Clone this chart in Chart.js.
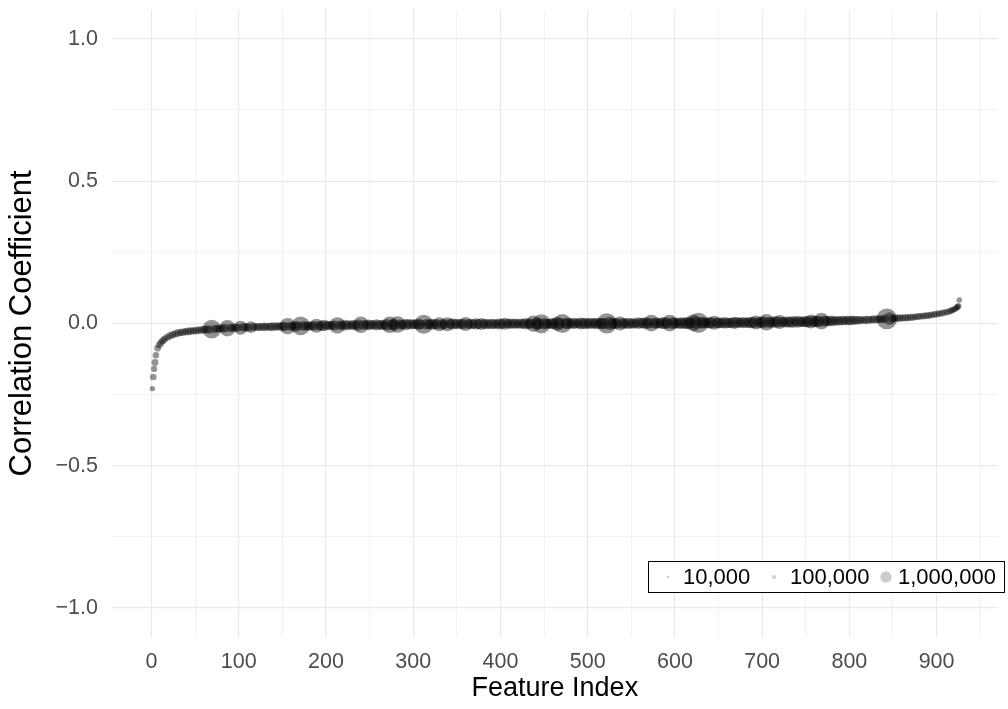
<!DOCTYPE html>
<html>
<head>
<meta charset="utf-8">
<script src="https://cdn.jsdelivr.net/npm/chart.js@4/dist/chart.umd.min.js"></script>
<style>
  html, body { margin: 0; padding: 0; background: #fff; }
  canvas { display: block; }
</style>
</head>
<body>
<canvas id="chart" width="1008" height="709"></canvas>
<script>
// feature index (x), sorted correlation (y), observations per feature in thousands (point size)
const featureIndex = [
  1,2,3,4,5,7,9,11,13,15,18,21,24,27,30,
  33,36,39,42,45,48,51,54,57,60,
  63,66,69,72,75,78,81,84,87,90,
  93,96,99,102,105,108,111,114,117,120,
  123,126,129,132,135,138,141,144,147,150,
  153,156,159,162,165,168,171,174,177,180,
  183,186,189,192,195,198,201,204,207,210,
  213,216,219,222,225,228,231,234,237,240,
  243,246,249,252,255,258,261,264,267,270,
  273,276,279,282,285,288,291,294,297,300,
  303,306,309,312,315,318,321,324,327,330,
  333,336,339,342,345,348,351,354,357,360,
  363,366,369,372,375,378,381,384,387,390,
  393,396,399,402,405,408,411,414,417,420,
  423,426,429,432,435,438,441,444,447,450,
  453,456,459,462,465,468,471,474,477,480,
  483,486,489,492,495,498,501,504,507,510,
  513,516,519,522,525,528,531,534,537,540,
  543,546,549,552,555,558,561,564,567,570,
  573,576,579,582,585,588,591,594,597,600,
  603,606,609,612,615,618,621,624,627,630,
  633,636,639,642,645,648,651,654,657,660,
  663,666,669,672,675,678,681,684,687,690,
  693,696,699,702,705,708,711,714,717,720,
  723,726,729,732,735,738,741,744,747,750,
  753,756,759,762,765,768,771,774,777,780,
  783,786,789,792,795,798,801,804,807,810,
  813,816,819,822,825,828,831,834,837,840,
  843,846,849,852,855,858,861,864,867,870,
  873,876,879,882,885,888,891,894,897,900,
  903,906,909,912,915,917,919,921,923,924,925,926
];

const correlation = [
  -0.229,-0.188,-0.160,-0.137,-0.112,-0.087,-0.075,-0.067,-0.061,-0.055,
  -0.049,-0.044,-0.040,-0.037,-0.034,
  -0.032,-0.031,-0.029,-0.028,-0.027,-0.026,-0.025,-0.024,-0.023,-0.022,
  -0.021,-0.021,-0.020,-0.020,-0.019,-0.018,-0.018,-0.017,-0.017,-0.016,
  -0.016,-0.015,-0.015,-0.015,-0.014,-0.014,-0.014,-0.013,-0.013,-0.013,
  -0.013,-0.012,-0.012,-0.012,-0.012,-0.012,-0.011,-0.011,-0.011,-0.011,
  -0.011,-0.010,-0.010,-0.010,-0.010,-0.009,-0.009,-0.009,-0.009,-0.009,
  -0.009,-0.008,-0.008,-0.008,-0.008,-0.007,-0.007,-0.007,-0.007,-0.007,
  -0.007,-0.007,-0.006,-0.006,-0.006,-0.006,-0.006,-0.006,-0.006,-0.005,
  -0.005,-0.005,-0.005,-0.005,-0.005,-0.005,-0.005,-0.005,-0.005,-0.005,
  -0.005,-0.004,-0.004,-0.004,-0.004,-0.004,-0.004,-0.003,-0.003,-0.003,
  -0.003,-0.003,-0.003,-0.003,-0.003,-0.003,-0.003,-0.003,-0.003,-0.003,
  -0.003,-0.003,-0.003,-0.002,-0.002,-0.002,-0.002,-0.002,-0.002,-0.002,
  -0.002,-0.002,-0.002,-0.002,-0.002,-0.002,-0.002,-0.002,-0.002,-0.002,
  -0.002,-0.002,-0.002,-0.001,-0.001,-0.001,-0.001,-0.001,-0.001,-0.001,
  -0.001,-0.001,-0.001,-0.001,-0.001,-0.001,-0.001,-0.001,-0.001,-0.001,
  -0.001,-0.001,-0.001,-0.001,-0.001,0.000,0.000,0.000,0.000,0.000,
  0.000,0.000,0.000,0.000,0.000,0.000,0.000,0.000,0.000,0.000,
  0.000,0.000,0.000,0.000,0.000,0.000,0.000,0.000,0.000,0.000,
  0.000,0.000,0.000,0.000,0.000,0.001,0.001,0.001,0.001,0.001,
  0.001,0.001,0.001,0.001,0.001,0.001,0.001,0.001,0.001,0.001,
  0.001,0.001,0.001,0.001,0.001,0.002,0.002,0.002,0.002,0.002,
  0.002,0.002,0.002,0.002,0.002,0.002,0.002,0.002,0.002,0.002,
  0.002,0.002,0.002,0.003,0.003,0.003,0.003,0.003,0.003,0.003,
  0.003,0.003,0.004,0.004,0.004,0.004,0.004,0.005,0.005,0.005,
  0.005,0.005,0.005,0.005,0.005,0.006,0.006,0.006,0.006,0.006,
  0.006,0.007,0.007,0.007,0.007,0.008,0.008,0.008,0.008,0.009,
  0.009,0.009,0.009,0.010,0.010,0.010,0.010,0.011,0.011,0.011,
  0.012,0.012,0.012,0.013,0.013,0.014,0.014,0.015,0.015,0.016,
  0.016,0.017,0.017,0.018,0.018,0.019,0.019,0.020,0.020,0.021,
  0.022,0.023,0.024,0.025,0.026,0.027,0.028,0.030,0.031,0.033,
  0.034,0.036,0.038,0.040,0.043,0.045,0.048,0.051,0.055,0.058,0.061,0.082
];

const observationsK = [
  190,300,260,340,300,320,350,330,360,340,
  380,360,400,380,400,
  380,420,360,450,400,380,430,400,420,450,
  420,520,2700,480,420,460,440,560,2100,480,
  450,500,420,1500,480,540,450,1000,460,450,
  480,440,540,420,480,600,450,520,460,650,
  620,2100,600,560,900,620,2700,700,600,650,
  600,720,1500,640,820,1000,620,660,600,750,
  2100,700,620,900,640,600,750,660,950,2100,
  720,650,850,700,650,950,700,800,650,1000,
  2100,850,950,2100,750,700,1000,720,800,680,
  750,950,700,2800,850,720,950,750,800,1500,
  780,720,1500,760,950,700,850,720,800,1500,
  720,850,700,950,760,1100,700,800,680,850,
  760,680,950,720,1100,700,800,760,780,680,
  800,700,1000,760,850,2100,950,1000,2800,1000,
  800,760,950,850,1500,950,2800,850,1000,760,
  950,800,760,1100,850,1000,800,950,760,1000,
  850,1000,1000,3200,1300,850,950,800,1500,850,
  760,950,800,850,700,1000,760,950,1000,850,
  2100,850,950,800,1000,1000,950,2100,1000,950,
  850,1000,950,1000,1100,950,2100,1100,3200,1000,
  1000,850,1000,950,1500,850,950,800,1000,850,
  800,950,1100,850,760,950,800,850,1000,950,
  1500,850,1000,1000,2100,950,850,1000,1000,1500,
  850,800,950,850,1100,760,1100,800,850,950,
  1000,1500,950,1000,1000,2100,950,800,760,850,
  650,720,600,680,580,650,720,580,600,540,
  480,420,500,440,380,480,420,450,400,520,
  3300,1200,480,420,400,380,360,420,340,360,
  340,320,360,300,340,320,340,300,320,330,
  300,320,290,310,280,300,260,280,260,270,250,200
];

const xGridValues = [0,50,100,150,200,250,300,350,400,450,500,550,600,650,700,750,800,850,900,950];
const xTickLabels = [0,100,200,300,400,500,600,700,800,900];
const yGridValues = [-1,-0.75,-0.5,-0.25,0,0.25,0.5,0.75,1];
const yTickLabels = [-1,-0.5,0,0.5,1];
const legendValuesK = [10,100,1000];
const legendLabels = ["10,000","100,000","1,000,000"];

const FONT = "'Liberation Sans', Arial, Helvetica, sans-serif";
const POINT_COLOR = "rgba(0,0,0,0.42)";

function radiusFor(k) {
  return Math.sqrt(1.3 + 0.032 * k);
}

const points = featureIndex.map((x, i) => ({ x: x, y: correlation[i], n: observationsK[i] }));

// size legend drawn inside the panel, bottom right
const sizeLegend = {
  id: "sizeLegend",
  afterDraw(chart) {
    const ctx = chart.ctx;
    const left = 648.5, top = 561.5, w = 356, h = 31;
    const dotX = [668, 774, 886];
    const textX = [683, 790, 898];
    ctx.save();
    ctx.fillStyle = "#ffffff";
    ctx.fillRect(left, top, w, h);
    ctx.strokeStyle = "#000000";
    ctx.lineWidth = 1;
    ctx.strokeRect(left, top, w, h);
    ctx.font = "22px " + FONT;
    ctx.textBaseline = "middle";
    ctx.textAlign = "left";
    const cy = top + h / 2;
    legendValuesK.forEach((k, i) => {
      ctx.fillStyle = "rgba(0,0,0,0.2)";
      ctx.beginPath();
      ctx.arc(dotX[i], cy, radiusFor(k), 0, Math.PI * 2);
      ctx.fill();
      ctx.fillStyle = "#000000";
      ctx.fillText(legendLabels[i], textX[i], cy + 1);
    });
    ctx.restore();
  }
};

new Chart(document.getElementById("chart"), {
  type: "scatter",
  data: {
    datasets: [{
      data: points,
      pointRadius: (c) => radiusFor(c.raw ? c.raw.n : 100),
      pointBackgroundColor: POINT_COLOR,
      pointBorderWidth: 0,
      pointHoverRadius: (c) => radiusFor(c.raw ? c.raw.n : 100)
    }]
  },
  options: {
    responsive: false,
    animation: false,
    events: [],
    layout: { padding: { top: 8, left: 0, right: 0, bottom: 0 } },
    plugins: { legend: { display: false }, tooltip: { enabled: false } },
    scales: {
      x: {
        type: "linear",
        min: -45.3,
        max: 970,
        afterFit: (s) => { s.height = 72.5; s.paddingLeft = 0; s.paddingRight = 0; },
        afterBuildTicks: (s) => { s.ticks = xGridValues.map(v => ({ value: v })); },
        border: { display: false },
        grid: {
          drawTicks: false,
          color: (c) => xTickLabels.includes(c.tick.value) ? "#e9e9e9" : "#f0f0f0",
          lineWidth: (c) => xTickLabels.includes(c.tick.value) ? 1.2 : 0.9
        },
        ticks: {
          padding: 12.5,
          color: "#4d4d4d",
          font: { family: FONT, size: 21.5 },
          maxRotation: 0,
          autoSkip: false,
          callback: (v) => xTickLabels.includes(v) ? String(v) : ""
        },
        title: {
          display: true,
          text: "Feature Index",
          color: "#000000",
          font: { family: FONT, size: 27 },
          padding: { top: 0, bottom: 4 }
        }
      },
      y: {
        type: "linear",
        min: -1.1,
        max: 1.1,
        afterFit: (s) => { s.width = 112; s.paddingTop = 0; s.paddingBottom = 0; },
        afterBuildTicks: (s) => { s.ticks = yGridValues.map(v => ({ value: v })); },
        border: { display: false },
        grid: {
          drawTicks: false,
          color: (c) => yTickLabels.includes(c.tick.value) ? "#e9e9e9" : "#f0f0f0",
          lineWidth: (c) => yTickLabels.includes(c.tick.value) ? 1.2 : 0.9
        },
        ticks: {
          padding: 14,
          color: "#4d4d4d",
          font: { family: FONT, size: 21.5 },
          autoSkip: false,
          callback: (v) => yTickLabels.includes(v) ? v.toFixed(1).replace("-", "\u2212") : ""
        },
        title: {
          display: true,
          text: "Correlation Coefficient",
          color: "#000000",
          font: { family: FONT, size: 31 },
          padding: { top: 4, bottom: 0 }
        }
      }
    }
  },
  plugins: [sizeLegend]
});
</script>
</body>
</html>
